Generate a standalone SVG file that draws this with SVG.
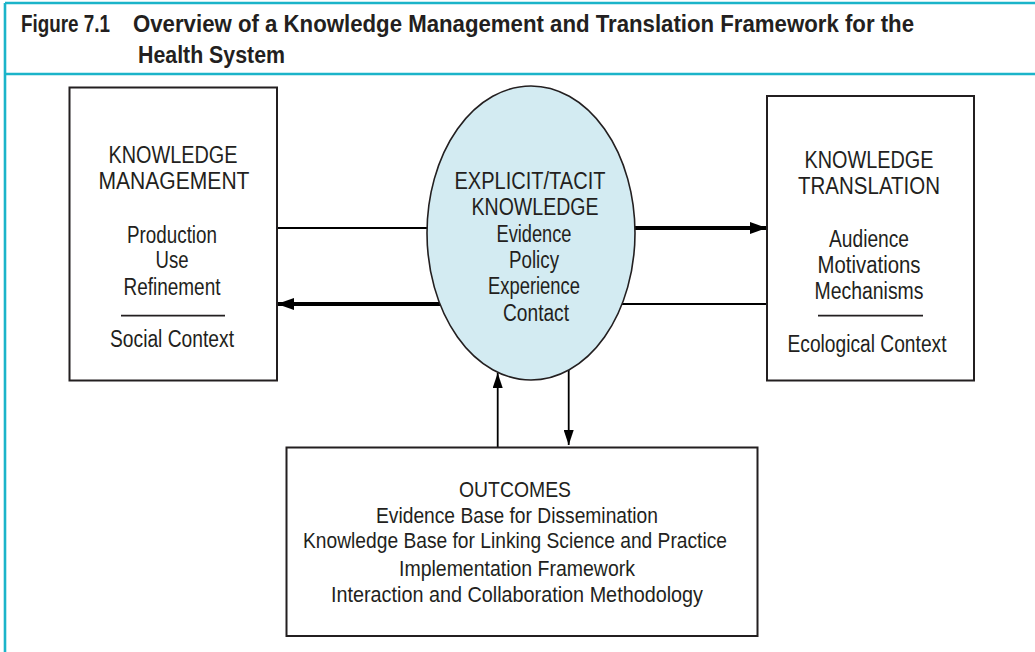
<svg xmlns="http://www.w3.org/2000/svg" width="1035" height="652" viewBox="0 0 1035 652">
  <style>
    .frame { stroke: #1bb4c9; stroke-width: 2.6; fill: none; }
    .title { font-family: "Liberation Sans", Arial, sans-serif; font-weight: bold; font-size: 23px; fill: #231f20; }
    .box { fill: #ffffff; stroke: #231f20; stroke-width: 2; }
    .ell { fill: #d3ebf2; stroke: #231f20; stroke-width: 1.6; }
    .t { font-family: "Liberation Sans", Arial, sans-serif; font-size: 23.5px; fill: #231f20; text-anchor: middle; }
    .to { font-family: "Liberation Sans", Arial, sans-serif; font-size: 22.5px; fill: #231f20; text-anchor: middle; }
    .rule { stroke: #231f20; stroke-width: 1.8; }
    .thin { stroke: #000; stroke-width: 1.8; fill: none; }
    .bold { stroke: #000; stroke-width: 4; fill: none; }
  </style>
  <defs>
    <marker id="ahBold" viewBox="0 0 17 12" refX="17" refY="6" markerWidth="17" markerHeight="12" markerUnits="userSpaceOnUse" orient="auto">
      <path d="M0,0 L17,6 L0,12 Z" fill="#000"/>
    </marker>
    <marker id="ahThin" viewBox="0 0 15 10" refX="15" refY="5" markerWidth="15" markerHeight="10" markerUnits="userSpaceOnUse" orient="auto">
      <path d="M0,0 L15,5 L0,10 Z" fill="#000"/>
    </marker>
  </defs>

  <g id="frame">
    <line class="frame" x1="5" y1="3" x2="1035" y2="3"/>
    <line class="frame" x1="5" y1="3" x2="5" y2="652"/>
    <line class="frame" x1="5" y1="74" x2="1035" y2="74"/>
  </g>

  <g id="title">
    <text class="title" x="21" y="32" textLength="89" lengthAdjust="spacingAndGlyphs">Figure 7.1</text>
    <text class="title" x="133" y="32" textLength="781" lengthAdjust="spacingAndGlyphs">Overview of a Knowledge Management and Translation Framework for the</text>
    <text class="title" x="138" y="63" textLength="147" lengthAdjust="spacingAndGlyphs">Health System</text>
  </g>

  <g id="connectors">
    <line class="thin" x1="277" y1="228" x2="428" y2="228"/>
    <line class="bold" x1="635" y1="228" x2="767" y2="228" marker-end="url(#ahBold)"/>
    <line class="bold" x1="441" y1="304" x2="277" y2="304" marker-end="url(#ahBold)"/>
    <line class="thin" x1="621" y1="304" x2="767" y2="304"/>
    <line class="thin" x1="497.7" y1="447" x2="497.7" y2="373" marker-end="url(#ahThin)"/>
    <line class="thin" x1="568.7" y1="370" x2="568.7" y2="445" marker-end="url(#ahThin)"/>
  </g>

  <g id="knowledge-management">
    <rect class="box" x="69.5" y="87.5" width="207.5" height="293"/>
    <text class="t" x="173" y="163" textLength="129" lengthAdjust="spacingAndGlyphs">KNOWLEDGE</text>
    <text class="t" x="174" y="189" textLength="151" lengthAdjust="spacingAndGlyphs">MANAGEMENT</text>
    <text class="t" x="172" y="243" textLength="90" lengthAdjust="spacingAndGlyphs">Production</text>
    <text class="t" x="172" y="268" textLength="33" lengthAdjust="spacingAndGlyphs">Use</text>
    <text class="t" x="172" y="295" textLength="97" lengthAdjust="spacingAndGlyphs">Refinement</text>
    <line class="rule" x1="121" y1="315.7" x2="225" y2="315.7"/>
    <text class="t" x="172" y="347" textLength="124" lengthAdjust="spacingAndGlyphs">Social Context</text>
  </g>

  <g id="explicit-tacit-knowledge">
    <ellipse class="ell" cx="531" cy="233" rx="104" ry="147"/>
    <text class="t" x="530" y="189" textLength="151" lengthAdjust="spacingAndGlyphs">EXPLICIT/TACIT</text>
    <text class="t" x="535" y="215" textLength="127" lengthAdjust="spacingAndGlyphs">KNOWLEDGE</text>
    <text class="t" x="534" y="242" textLength="75" lengthAdjust="spacingAndGlyphs">Evidence</text>
    <text class="t" x="534" y="268" textLength="50" lengthAdjust="spacingAndGlyphs">Policy</text>
    <text class="t" x="534" y="294" textLength="92" lengthAdjust="spacingAndGlyphs">Experience</text>
    <text class="t" x="536" y="321" textLength="66" lengthAdjust="spacingAndGlyphs">Contact</text>
  </g>

  <g id="knowledge-translation">
    <rect class="box" x="767" y="96" width="207" height="284.5"/>
    <text class="t" x="869" y="168" textLength="129" lengthAdjust="spacingAndGlyphs">KNOWLEDGE</text>
    <text class="t" x="869" y="194" textLength="142" lengthAdjust="spacingAndGlyphs">TRANSLATION</text>
    <text class="t" x="869" y="247" textLength="80" lengthAdjust="spacingAndGlyphs">Audience</text>
    <text class="t" x="869" y="273" textLength="103" lengthAdjust="spacingAndGlyphs">Motivations</text>
    <text class="t" x="869" y="299" textLength="109" lengthAdjust="spacingAndGlyphs">Mechanisms</text>
    <line class="rule" x1="818" y1="315.7" x2="923" y2="315.7"/>
    <text class="t" x="867" y="352" textLength="159" lengthAdjust="spacingAndGlyphs">Ecological Context</text>
  </g>

  <g id="outcomes">
    <rect class="box" x="286.5" y="447.5" width="471" height="188.5"/>
    <text class="to" x="515" y="497" textLength="112" lengthAdjust="spacingAndGlyphs">OUTCOMES</text>
    <text class="to" x="517" y="523" textLength="282" lengthAdjust="spacingAndGlyphs">Evidence Base for Dissemination</text>
    <text class="to" x="515" y="548" textLength="424" lengthAdjust="spacingAndGlyphs">Knowledge Base for Linking Science and Practice</text>
    <text class="to" x="517" y="576" textLength="236" lengthAdjust="spacingAndGlyphs">Implementation Framework</text>
    <text class="to" x="517" y="602" textLength="372" lengthAdjust="spacingAndGlyphs">Interaction and Collaboration Methodology</text>
  </g>
</svg>
